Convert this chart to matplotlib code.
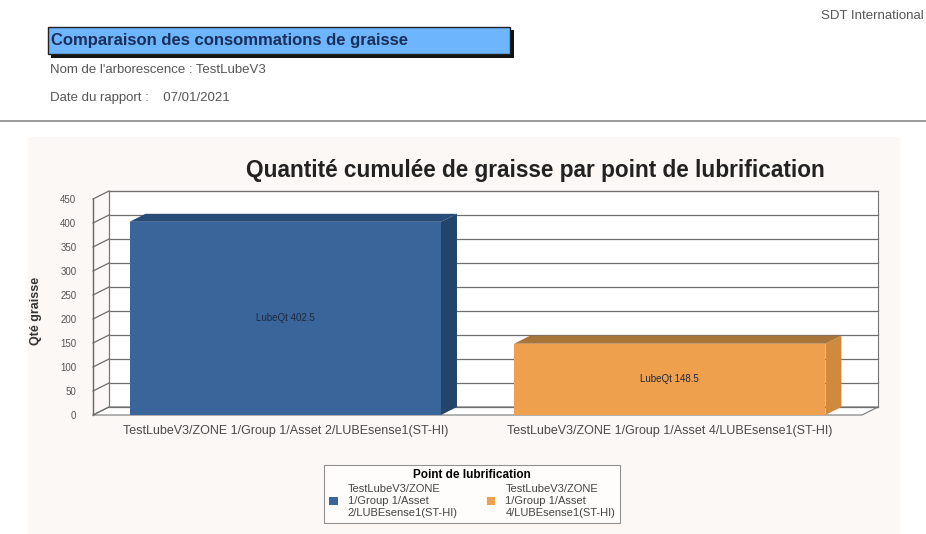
import matplotlib.pyplot as plt
from matplotlib.patches import Rectangle, Polygon
from matplotlib.lines import Line2D

plt.rcParams['font.family'] = ['Liberation Sans', 'DejaVu Sans']

# Cumulated grease quantity per lubrication point
points = ['TestLubeV3/ZONE 1/Group 1/Asset 2/LUBEsense1(ST-HI)',
          'TestLubeV3/ZONE 1/Group 1/Asset 4/LUBEsense1(ST-HI)']
legend_labels = ['TestLubeV3/ZONE\n1/Group 1/Asset\n2/LUBEsense1(ST-HI)',
                 'TestLubeV3/ZONE\n1/Group 1/Asset\n4/LUBEsense1(ST-HI)']
quantities = [402.5, 148.5]
yticks = list(range(0, 451, 50))

front_col = ['#3A659A', '#EFA04C']
top_col = ['#284C78', '#A9743A']
side_col = ['#234569', '#CF8A3E']

W, H = 926, 534
fig = plt.figure(figsize=(W / 100, H / 100), dpi=100)
fig.patch.set_facecolor('white')

# page decorations in pixel coordinates
deco = fig.add_axes([0, 0, 1, 1])
deco.set_xlim(0, W)
deco.set_ylim(H, 0)
deco.axis('off')

deco.add_patch(Rectangle((28, 137), 872, 400, facecolor='#FBF8F5', edgecolor='none'))
deco.add_patch(Rectangle((51, 30), 463, 28, facecolor='#111111', edgecolor='none'))
deco.add_patch(Rectangle((48, 27), 462, 27, facecolor='#6DB5FD', edgecolor='#222222', lw=1))
deco.text(51, 41, 'Comparaison des consommations de graisse', fontsize=12,
          fontweight='bold', color='#1B2E5A', va='center')
deco.text(50, 70, "Nom de l'arborescence : TestLubeV3", fontsize=9.5, color='#555555', va='center')
deco.text(50, 98, 'Date du rapport :    07/01/2021', fontsize=9.5, color='#555555', va='center')
deco.text(924, 16, 'SDT International', fontsize=9.5, color='#555555', va='center', ha='right')
deco.add_line(Line2D([0, W], [121, 121], color='#8A8A8A', lw=1.2))
deco.text(535, 170, 'Quantité cumulée de graisse par point de lubrification',
          fontsize=16.3, fontweight='bold', color='#222222', ha='center', va='center')

# chart: axes span the front plane of the 3D box
L, R, B, T = 93, 862, 415, 199
ax = fig.add_axes([L / W, 1 - B / H, (R - L) / W, (B - T) / H])
ax.set_xlim(0, 2)
ax.set_ylim(0, 450)
ax.patch.set_visible(False)
for s in ['top', 'right', 'bottom']:
    ax.spines[s].set_visible(False)
ax.spines['left'].set_color('#666666')
ax.spines['left'].set_linewidth(1)

# depth offset (16 px right, 8 px up) in data units
dx = 16 / ((R - L) / 2)
dy = 8 / ((B - T) / 450)

ax.add_patch(Rectangle((dx, dy), 2, 450, facecolor='white', edgecolor='#777777', lw=0.8, clip_on=False))
ax.add_patch(Polygon([(0, 0), (2, 0), (2 + dx, dy), (dx, dy)], closed=True,
                     facecolor='white', edgecolor='#777777', lw=0.8, clip_on=False))
for v in yticks:
    ax.plot([dx, 2 + dx], [v + dy, v + dy], color='#6E6E6E', lw=0.9, clip_on=False)
    ax.plot([0, dx], [v, v + dy], color='#6E6E6E', lw=0.9, clip_on=False)
ax.plot([dx, dx], [dy, 450 + dy], color='#777777', lw=0.8, clip_on=False)

width = 0.81
for i, v in enumerate(quantities):
    x0 = i + 0.5 - width / 2
    x1 = x0 + width
    ax.add_patch(Polygon([(x1, 0), (x1 + dx, dy), (x1 + dx, v + dy), (x1, v)], closed=True,
                         facecolor=side_col[i], edgecolor='none', clip_on=False, zorder=3))
    ax.add_patch(Polygon([(x0, v), (x1, v), (x1 + dx, v + dy), (x0 + dx, v + dy)], closed=True,
                         facecolor=top_col[i], edgecolor='none', clip_on=False, zorder=3))
    ax.add_patch(Rectangle((x0, 0), width, v, facecolor=front_col[i], edgecolor='none',
                           clip_on=False, zorder=3, label=legend_labels[i]))
    ax.text(i + 0.5, v / 2, f'LubeQt {v}', fontsize=7, color='#1E2A40',
            ha='center', va='center', zorder=4)

ax.set_yticks(yticks)
ax.set_yticklabels([str(v) for v in yticks], fontsize=7, color='#555555')
ax.tick_params(axis='y', length=0, pad=12)
ax.set_xticks([0.5, 1.5])
ax.set_xticklabels(points, fontsize=9, color='#4A4A4A')
ax.tick_params(axis='x', length=0, pad=7)
ax.set_ylabel('Qté graisse', fontsize=9, fontweight='bold', color='#333333')
ax.yaxis.set_label_coords(-0.066, 0.48)

leg = ax.legend(loc='upper center', bbox_to_anchor=(472 / W, 1 - 465 / H),
                bbox_transform=fig.transFigure, ncol=2, title='Point de lubrification',
                fontsize=8, title_fontproperties={'size': 8.5, 'weight': 'bold'},
                frameon=True, fancybox=False, edgecolor='#777777', handlelength=0.8,
                handleheight=0.8, borderpad=0.4, columnspacing=2.6, labelspacing=0.2,
                handletextpad=0.9, borderaxespad=0)
leg.get_frame().set_facecolor('white')
leg.get_frame().set_linewidth(0.8)
for t in leg.get_texts():
    t.set_color('#444444')
    t.set_linespacing(1.3)

fig.savefig('out.png', dpi=100)
